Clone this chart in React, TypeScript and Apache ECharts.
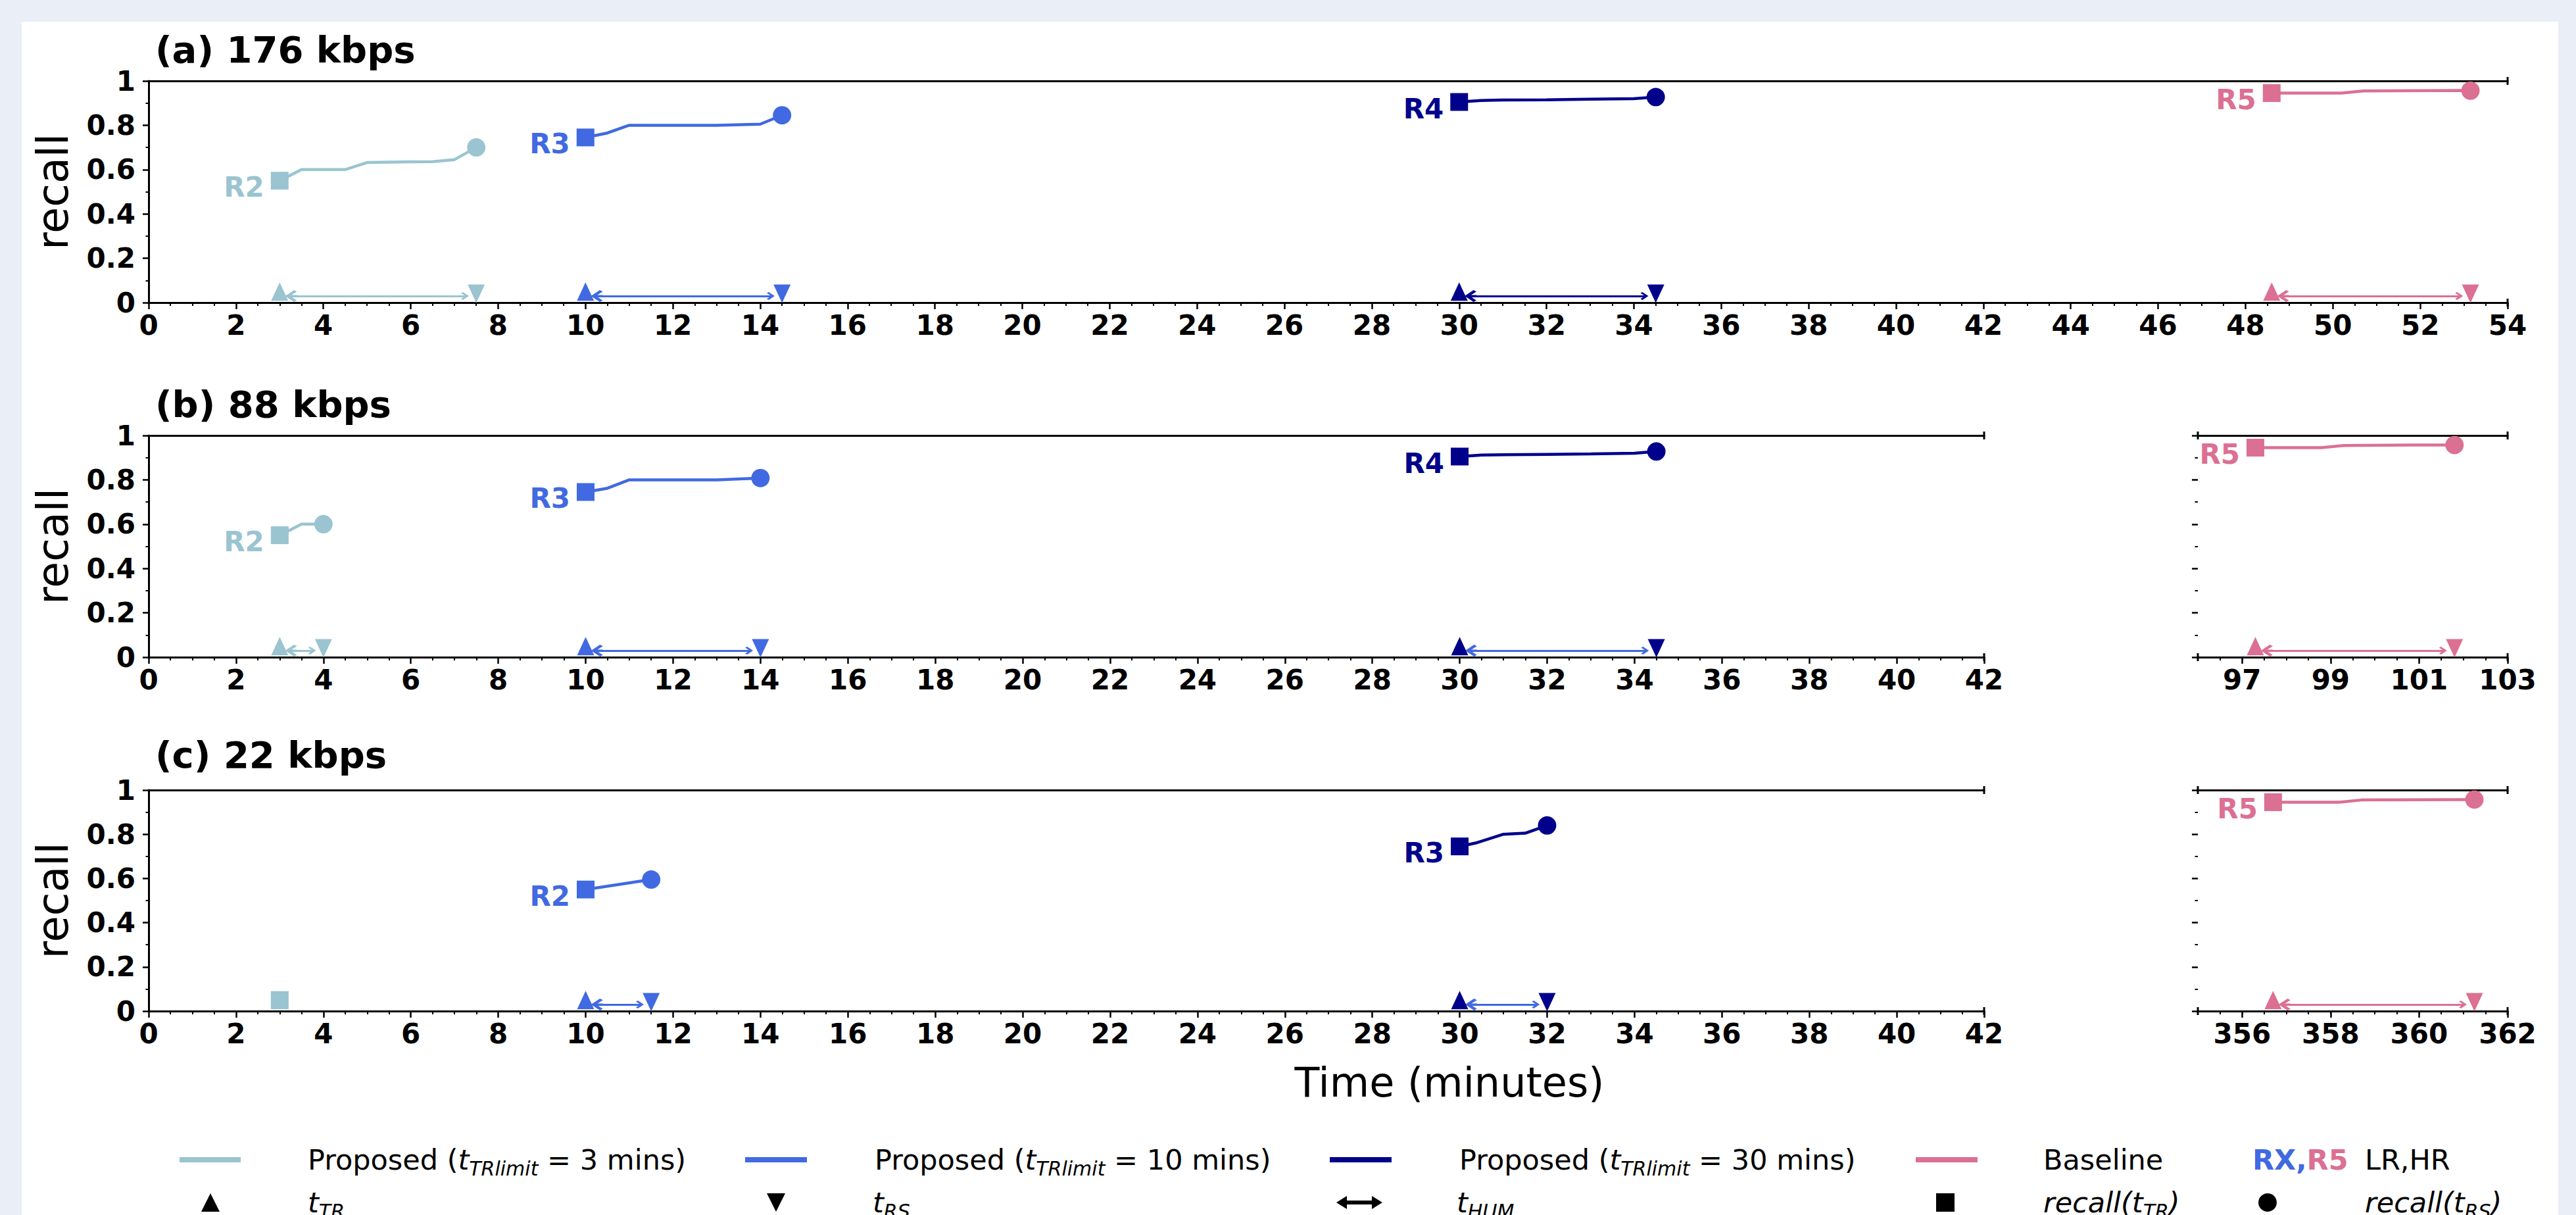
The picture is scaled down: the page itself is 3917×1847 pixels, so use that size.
import React, { useEffect, useRef } from "react";
import * as echarts from "echarts";

const FONT = "'DejaVu Sans', 'Liberation Sans', sans-serif";

const COLOR_3MIN = "#9AC4D0";
const COLOR_10MIN = "#4169E1";
const COLOR_30MIN = "#00008B";
const COLOR_BASE = "#DB7093";

const PANEL_TITLES = ["(a) 176 kbps", "(b) 88 kbps", "(c) 22 kbps"];
const RIGHT_B_LABELS = [97, 99, 101, 103];
const RIGHT_C_LABELS = [356, 358, 360, 362];

// Panel (a) 176 kbps
const A_R2_TIME = [3, 3.5, 4.5, 5, 6, 6.5, 7, 7.5];
const A_R2_RECALL = [0.55, 0.6, 0.6, 0.632, 0.635, 0.636, 0.645, 0.7];
const A_R3_TIME = [10, 10.5, 11, 13, 14, 14.5];
const A_R3_RECALL = [0.745, 0.765, 0.8, 0.8, 0.805, 0.845];
const A_R4_TIME = [30, 30.5, 31, 32, 33, 34, 34.5];
const A_R4_RECALL = [0.905, 0.912, 0.914, 0.915, 0.918, 0.92, 0.927];
const A_R5_TIME = [48.6, 50.2, 50.7, 53, 53.15];
const A_R5_RECALL = [0.945, 0.945, 0.955, 0.957, 0.956];

// Panel (b) 88 kbps
const B_R2_TIME = [3, 3.5, 4];
const B_R2_RECALL = [0.55, 0.6, 0.6];
const B_R3_TIME = [10, 10.5, 11, 13, 14];
const B_R3_RECALL = [0.745, 0.762, 0.8, 0.8, 0.808];
const B_R4_TIME = [30, 30.5, 32, 33, 34, 34.5];
const B_R4_RECALL = [0.905, 0.912, 0.915, 0.917, 0.92, 0.928];
const B_R5_TIME = [97.3, 98.8, 99.3, 100.8, 101.8];
const B_R5_RECALL = [0.945, 0.945, 0.955, 0.957, 0.957];

// Panel (c) 22 kbps
const C_3MIN_TIME = [3];
const C_3MIN_RECALL = [0.05];
const C_R2_TIME = [10, 11.5];
const C_R2_RECALL = [0.55, 0.595];
const C_R3_TIME = [30, 30.4, 31, 31.5, 32];
const C_R3_RECALL = [0.745, 0.762, 0.8, 0.805, 0.84];
const C_R5_TIME = [356.7, 358.2, 358.7, 361.25];
const C_R5_RECALL = [0.945, 0.945, 0.955, 0.957];

const MARK_UP_Y = 0.05;
const MARK_DOWN_Y = 0.04;
const ARROW_Y = 0.03;
const ARROW_SHRINK = 0.26;

const TRACES = [
  { grid: 0, label: "R2", color: COLOR_3MIN, arrow: COLOR_3MIN, time: A_R2_TIME, recall: A_R2_RECALL },
  { grid: 0, label: "R3", color: COLOR_10MIN, arrow: COLOR_10MIN, time: A_R3_TIME, recall: A_R3_RECALL },
  { grid: 0, label: "R4", color: COLOR_30MIN, arrow: COLOR_30MIN, time: A_R4_TIME, recall: A_R4_RECALL },
  { grid: 0, label: "R5", color: COLOR_BASE, arrow: COLOR_BASE, time: A_R5_TIME, recall: A_R5_RECALL },
  { grid: 1, label: "R2", color: COLOR_3MIN, arrow: COLOR_3MIN, time: B_R2_TIME, recall: B_R2_RECALL },
  { grid: 1, label: "R3", color: COLOR_10MIN, arrow: COLOR_10MIN, time: B_R3_TIME, recall: B_R3_RECALL },
  { grid: 1, label: "R4", color: COLOR_30MIN, arrow: COLOR_10MIN, time: B_R4_TIME, recall: B_R4_RECALL },
  { grid: 2, label: "R5", color: COLOR_BASE, arrow: COLOR_BASE, time: B_R5_TIME, recall: B_R5_RECALL },
  { grid: 3, label: "", color: COLOR_3MIN, arrow: COLOR_3MIN, time: C_3MIN_TIME, recall: C_3MIN_RECALL },
  { grid: 3, label: "R2", color: COLOR_10MIN, arrow: COLOR_10MIN, time: C_R2_TIME, recall: C_R2_RECALL },
  { grid: 3, label: "R3", color: COLOR_30MIN, arrow: COLOR_10MIN, time: C_R3_TIME, recall: C_R3_RECALL },
  { grid: 4, label: "R5", color: COLOR_BASE, arrow: COLOR_BASE, time: C_R5_TIME, recall: C_R5_RECALL },
];

const GRID_SPECS = [
  { left: 226, top: 123, width: 3587, height: 337, min: 0, max: 54, broken: false, labels: null as number[] | null },
  { left: 226, top: 662, width: 2791, height: 337, min: 0, max: 42, broken: false, labels: null },
  { left: 3342, top: 662, width: 471, height: 337, min: 96, max: 103, broken: true, labels: RIGHT_B_LABELS },
  { left: 226, top: 1201, width: 2791, height: 336, min: 0, max: 42, broken: false, labels: null },
  { left: 3342, top: 1201, width: 471, height: 336, min: 355, max: 362, broken: true, labels: RIGHT_C_LABELS },
];
const TITLE_Y = [75, 614, 1147];

const ARROW_PATH =
  "path://M10,0 L20,9 L17.5,12 L11.5,6.5 L11.5,12 L8.5,12 L8.5,6.5 L2.5,12 L0,9 Z";

const BLACK = "#000";

function buildOption() {
  const xAxis: any[] = [];
  const yAxis: any[] = [];
  const mainX: number[] = [];
  const tickLabel = { color: BLACK, fontSize: 42, fontWeight: "bold", fontFamily: FONT };

  GRID_SPECS.forEach((g, gi) => {
    mainX[gi] = xAxis.length;
    if (!g.broken) {
      xAxis.push({
        gridIndex: gi, type: "value", min: g.min, max: g.max, interval: 2, position: "bottom",
        axisLine: { show: true, onZero: false, lineStyle: { color: BLACK, width: 3 } },
        axisTick: { show: true, length: 10, lineStyle: { color: BLACK, width: 2.5 } },
        minorTick: { show: true, splitNumber: 4, length: 5, lineStyle: { color: BLACK, width: 2 } },
        axisLabel: { ...tickLabel, margin: 13 },
        splitLine: { show: false }, minorSplitLine: { show: false },
      });
    } else {
      const labs = g.labels as number[];
      xAxis.push({
        gridIndex: gi, type: "value", min: g.min, max: g.max, interval: 1, position: "bottom",
        axisLine: { show: true, onZero: false, lineStyle: { color: BLACK, width: 3 } },
        axisTick: { show: true, length: 10, customValues: labs, lineStyle: { color: BLACK, width: 2.5 } },
        axisLabel: { ...tickLabel, margin: 13, customValues: labs,
          formatter: (v: number) => (labs.indexOf(v) >= 0 ? String(v) : "") },
        splitLine: { show: false },
      });
      xAxis.push({
        gridIndex: gi, type: "value", min: g.min, max: g.max, interval: 0.5, position: "bottom",
        axisLine: { show: false, onZero: false },
        axisTick: { show: true, length: 5, lineStyle: { color: BLACK, width: 2 } },
        axisLabel: { show: false }, splitLine: { show: false },
      });
    }
    xAxis.push({
      gridIndex: gi, type: "value", min: g.min, max: g.max, position: "top",
      axisLine: { show: true, onZero: false, lineStyle: { color: BLACK, width: 3 } },
      axisTick: { show: false }, axisLabel: { show: false }, splitLine: { show: false },
    });
    yAxis.push({
      gridIndex: gi, type: "value", min: 0, max: 1, interval: 0.2, position: "left",
      axisLine: { show: !g.broken, onZero: false, lineStyle: { color: BLACK, width: 3 } },
      axisTick: { show: true, length: 9, lineStyle: { color: BLACK, width: 2.5 } },
      minorTick: { show: true, splitNumber: 2, length: 4.5, lineStyle: { color: BLACK, width: 2 } },
      axisLabel: { show: !g.broken, ...tickLabel, margin: 20 },
      splitLine: { show: false }, minorSplitLine: { show: false },
    });
  });

  const series: any[] = [];
  TRACES.forEach((tr) => {
    const xi = mainX[tr.grid];
    const yi = tr.grid;
    const n = tr.time.length;
    const tTR = tr.time[0];
    const tRS = tr.time[n - 1];
    const base = { xAxisIndex: xi, yAxisIndex: yi, silent: true, animation: false };
    if (n > 1) {
      series.push({
        ...base, type: "line", data: tr.time.map((t, k) => [t, tr.recall[k]]),
        showSymbol: false, symbol: "none", lineStyle: { color: tr.color, width: 4.5 },
        itemStyle: { color: tr.color }, z: 2,
      });
    }
    if (tRS - tTR > 0.5) {
      series.push({
        ...base, type: "lines", coordinateSystem: "cartesian2d",
        data: [{ coords: [[tTR + ARROW_SHRINK, ARROW_Y], [tRS - ARROW_SHRINK, ARROW_Y]] }],
        symbol: [ARROW_PATH, ARROW_PATH], symbolSize: [18, 12],
        lineStyle: { color: tr.arrow, width: 3, opacity: 1, curveness: 0 },
        itemStyle: { color: tr.arrow }, z: 3,
      });
    }
    series.push({
      ...base, type: "scatter", data: [[tTR, MARK_UP_Y]], symbol: "triangle",
      symbolSize: [26, 28], itemStyle: { color: tr.color, opacity: 1 }, z: 4,
    });
    if (n > 1) {
      series.push({
        ...base, type: "scatter", data: [[tRS, MARK_DOWN_Y]], symbol: "triangle", symbolRotate: 180,
        symbolSize: [26, 28], itemStyle: { color: tr.color, opacity: 1 }, z: 4,
      });
      series.push({
        ...base, type: "scatter", data: [[tRS, tr.recall[n - 1]]], symbol: "circle",
        symbolSize: 28, itemStyle: { color: tr.color, opacity: 1 }, z: 5,
      });
    }
    series.push({
      ...base, type: "scatter", data: [{ value: [tTR, tr.recall[0]], name: tr.label }],
      symbol: "rect", symbolSize: 27, itemStyle: { color: tr.color, opacity: 1 }, z: 5,
      label: {
        show: tr.label !== "", position: "left", distance: 10, offset: [0, 10],
        formatter: "{b}", color: tr.color, fontSize: 42, fontWeight: "bold", fontFamily: FONT,
      },
    });
  });

  const graphic: any[] = [
    { type: "rect", z: -100, silent: true, shape: { x: 33, y: 33, width: 3857, height: 1814 }, style: { fill: "#FFFFFF" } },
  ];
  PANEL_TITLES.forEach((t, i) => {
    graphic.push({
      type: "text", x: 236, y: TITLE_Y[i],
      style: { text: t, fill: BLACK, fontSize: 56, fontWeight: "bold", fontFamily: FONT, align: "left", verticalAlign: "middle" },
    });
  });
  [0, 1, 3].forEach((gi) => {
    const g = GRID_SPECS[gi];
    graphic.push({
      type: "text", x: 80, y: g.top + g.height / 2, rotation: Math.PI / 2,
      style: { text: "recall", fill: BLACK, fontSize: 65, fontFamily: FONT, align: "center", verticalAlign: "middle" },
    });
  });
  graphic.push({
    type: "text", x: 2204, y: 1645,
    style: { text: "Time (minutes)", fill: BLACK, fontSize: 62, fontFamily: FONT, align: "center", verticalAlign: "middle" },
  });
  GRID_SPECS.forEach((g) => {
    const ys = [g.top, g.top + g.height];
    const xs = g.broken ? [g.left, g.left + g.width] : [g.left + g.width];
    xs.forEach((x) => ys.forEach((y) => {
      graphic.push({ type: "line", shape: { x1: x, y1: y - 6, x2: x, y2: y + 6 }, style: { stroke: BLACK, lineWidth: 3 } });
    }));
  });

  // legend
  const R1 = 1763;
  const R2 = 1828;
  const rich: any = {
    n: { fontSize: 43, fontFamily: FONT, fill: BLACK, color: BLACK },
    i: { fontSize: 43, fontFamily: FONT, fontStyle: "italic", fill: BLACK, color: BLACK },
    s: { fontSize: 30, fontFamily: FONT, fontStyle: "italic", fill: BLACK, color: BLACK, padding: [26, 0, 0, 0] },
    bb: { fontSize: 43, fontFamily: FONT, fontWeight: "bold", fill: COLOR_10MIN, color: COLOR_10MIN },
    bp: { fontSize: 43, fontFamily: FONT, fontWeight: "bold", fill: COLOR_BASE, color: COLOR_BASE },
  };
  const legText = (x: number, y: number, text: string) =>
    graphic.push({ type: "text", x, y, style: { text, rich, fontSize: 43, fontFamily: FONT, fill: BLACK, align: "left", verticalAlign: "middle" } });
  const legLine = (x1: number, x2: number, color: string) =>
    graphic.push({ type: "line", shape: { x1, y1: R1, x2, y2: R1 }, style: { stroke: color, lineWidth: 8 } });

  legLine(273, 366, COLOR_3MIN);
  legText(468, R1, "{n|Proposed (}{i|t}{s|TRlimit}{n| = 3 mins)}");
  legLine(1133, 1227, COLOR_10MIN);
  legText(1330, R1, "{n|Proposed (}{i|t}{s|TRlimit}{n| = 10 mins)}");
  legLine(2022, 2116, COLOR_30MIN);
  legText(2219, R1, "{n|Proposed (}{i|t}{s|TRlimit}{n| = 30 mins)}");
  legLine(2913, 3007, COLOR_BASE);
  legText(3107, R1, "{n|Baseline}");
  legText(3425, R1, "{bb|RX,}{bp|R5}");
  legText(3596, R1, "{n|LR,HR}");

  graphic.push({ type: "polygon", shape: { points: [[320, R2 - 14], [306, R2 + 14], [334, R2 + 14]] }, style: { fill: BLACK } });
  legText(468, R2, "{i|t}{s|TR}");
  graphic.push({ type: "polygon", shape: { points: [[1166, R2 - 14], [1194, R2 - 14], [1180, R2 + 14]] }, style: { fill: BLACK } });
  legText(1327, R2, "{i|t}{s|RS}");
  graphic.push({
    type: "polygon",
    shape: { points: [[2032, R2], [2048, R2 - 10], [2048, R2 - 3], [2086, R2 - 3], [2086, R2 - 10], [2102, R2], [2086, R2 + 10], [2086, R2 + 3], [2048, R2 + 3], [2048, R2 + 10]] },
    style: { fill: BLACK },
  });
  legText(2215, R2, "{i|t}{s|HUM}");
  graphic.push({ type: "rect", shape: { x: 2944, y: R2 - 14, width: 28, height: 28 }, style: { fill: BLACK } });
  legText(3107, R2, "{i|recall(t}{s|TR}{i|)}");
  graphic.push({ type: "circle", shape: { cx: 3448, cy: R2, r: 14 }, style: { fill: BLACK } });
  legText(3596, R2, "{i|recall(t}{s|RS}{i|)}");

  return {
    animation: false,
    grid: GRID_SPECS.map((g) => ({ left: g.left, top: g.top, width: g.width, height: g.height, containLabel: false })),
    xAxis,
    yAxis,
    series,
    graphic,
  };
}

export default function App() {
  const ref = useRef<HTMLDivElement>(null);
  useEffect(() => {
    if (!ref.current) return;
    const chart = echarts.init(ref.current, undefined, { renderer: "svg" });
    chart.setOption(buildOption() as any);
    return () => chart.dispose();
  }, []);
  return (
    <div
      ref={ref}
      style={{ position: "absolute", left: 0, top: 0, width: 3917, height: 1847, background: "#EAEEF6" }}
    />
  );
}
